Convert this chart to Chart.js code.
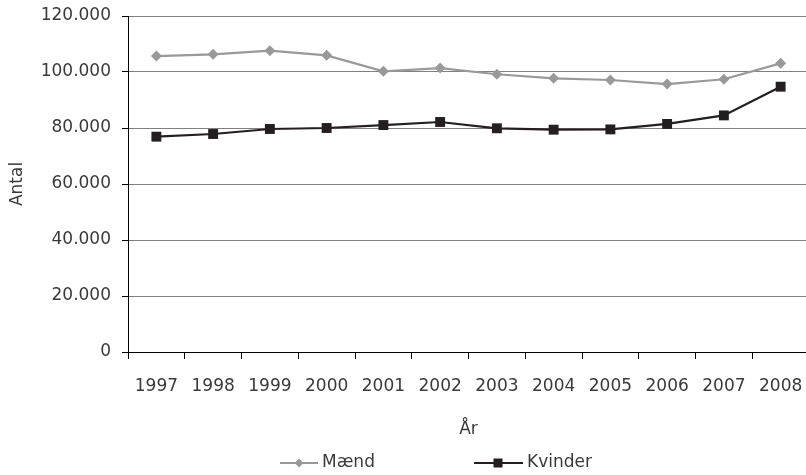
<!DOCTYPE html>
<html>
<head>
<meta charset="utf-8">
<script src="https://cdn.jsdelivr.net/npm/chart.js@4"></script>
<style>
  html, body { margin: 0; padding: 0; background: #fff; overflow: hidden; }
  #wrap { width: 806px; height: 475px; overflow: hidden; }
</style>
</head>
<body>
<div id="wrap"><canvas id="c" width="816" height="475"></canvas></div>
<script>
const years = ['1997','1998','1999','2000','2001','2002','2003','2004','2005','2006','2007','2008'];
const maend = [105700, 106300, 107600, 105950, 100250, 101400, 99200, 97750, 97150, 95700, 97400, 103100];
const kvinder = [76900, 77850, 79650, 80000, 81050, 82150, 79900, 79400, 79500, 81450, 84500, 94750];
const seriesNames = ['Mænd', 'Kvinder'];
const yTitle = 'Antal';
const xTitle = 'År';

const FONT = 'DejaVu Sans';
const TXT = '#3a3a3a';
const GREY = '#999999';
const DARK = '#231f20';

function fmt(v) {
  return String(Math.round(v)).replace(/\B(?=(\d{3})+(?!\d))/g, '.');
}

const customLegend = {
  id: 'customLegend',
  afterDraw(chart) {
    const ctx = chart.ctx;
    ctx.save();
    const y = 463;
    ctx.font = '17px "' + FONT + '"';
    ctx.fillStyle = TXT;
    ctx.textBaseline = 'middle';
    ctx.textAlign = 'left';
    // Mænd
    ctx.strokeStyle = GREY; ctx.lineWidth = 2;
    ctx.beginPath(); ctx.moveTo(280, y); ctx.lineTo(318, y); ctx.stroke();
    ctx.fillStyle = GREY;
    ctx.beginPath(); ctx.moveTo(299, y - 4.5); ctx.lineTo(303.5, y); ctx.lineTo(299, y + 4.5); ctx.lineTo(294.5, y); ctx.closePath(); ctx.fill();
    ctx.fillStyle = TXT;
    ctx.fillText(seriesNames[0], 322, y);
    // Kvinder
    ctx.strokeStyle = DARK; ctx.lineWidth = 2;
    ctx.beginPath(); ctx.moveTo(474, y); ctx.lineTo(523, y); ctx.stroke();
    ctx.fillStyle = DARK;
    ctx.fillRect(493.5, y - 4.5, 9, 9);
    ctx.fillStyle = TXT;
    ctx.fillText(seriesNames[1], 527, y);
    ctx.restore();
  }
};

new Chart(document.getElementById('c'), {
  type: 'line',
  data: {
    labels: years,
    datasets: [
      {
        label: seriesNames[0], data: maend,
        borderColor: GREY, backgroundColor: GREY, borderWidth: 2.2,
        pointStyle: 'rectRot', pointRadius: 5.5, pointHoverRadius: 5.5,
        pointBorderWidth: 0, tension: 0
      },
      {
        label: seriesNames[1], data: kvinder,
        borderColor: DARK, backgroundColor: DARK, borderWidth: 2.2,
        pointStyle: 'rect', pointRadius: 7, pointHoverRadius: 7,
        pointBorderWidth: 0, tension: 0
      }
    ]
  },
  options: {
    responsive: false,
    animation: false,
    devicePixelRatio: 1,
    layout: { padding: { top: 16, right: 0, bottom: 35, left: 0 } },
    plugins: { legend: { display: false }, tooltip: { enabled: false } },
    scales: {
      x: {
        offset: true,
        afterFit(s) { s.height = 88; s.paddingLeft = 0; s.paddingRight = 0; },
        grid: { drawOnChartArea: false, drawTicks: true, tickLength: 7, color: '#000', offset: true },
        border: { color: '#000', width: 1 },
        ticks: { color: TXT, font: { family: FONT, size: 17 }, padding: 17, maxRotation: 0, autoSkip: false },
        title: { display: true, text: xTitle, color: TXT, font: { family: FONT, size: 17 }, padding: { top: 4, bottom: 0 } }
      },
      y: {
        min: 0, max: 120000,
        afterFit(s) { s.width = 128; s.paddingTop = 0; s.paddingBottom = 0; },
        grid: { color: '#808080', lineWidth: 1, tickColor: '#000', tickLength: 6, drawTicks: true },
        border: { color: '#000', width: 1 },
        ticks: { stepSize: 20000, color: TXT, font: { family: FONT, size: 17 }, padding: 11, callback: v => fmt(v) },
        title: { display: true, text: yTitle, color: TXT, font: { family: FONT, size: 17 }, padding: { top: 7, bottom: 0 } }
      }
    }
  },
  plugins: [customLegend]
});
</script>
</body>
</html>
